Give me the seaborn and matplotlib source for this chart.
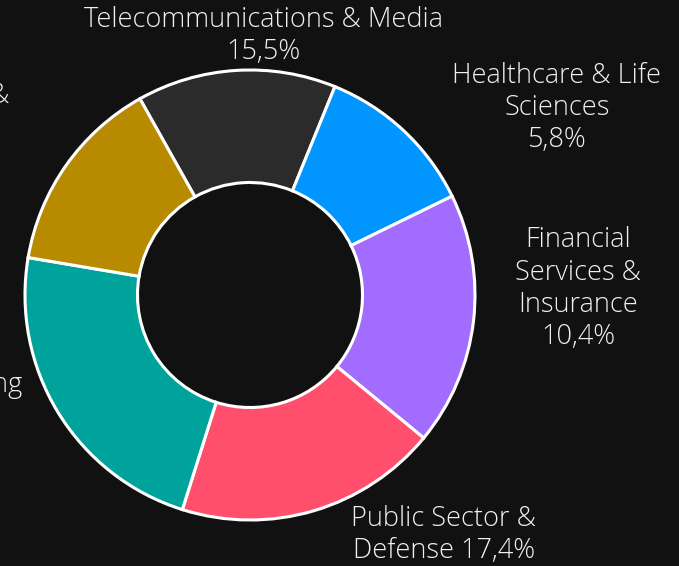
import seaborn as sns
import matplotlib.pyplot as plt

# Slice data (clockwise from the top-left)
sectors = ['Telecommunications & Media', 'Healthcare & Life Sciences',
           'Financial Services & Insurance', 'Public Sector & Defense',
           'Manufacturing', 'Energy & Utilities']
shares = [14.3, 11.6, 18.2, 18.9, 22.8, 14.2]
colors = ['#2b2b2b', '#0095ff', '#a26cff', '#ff4f6c', '#00a39b', '#b88a00']

# Label texts as shown in the chart
label_texts = ['Telecommunications & Media\n15,5%',
               'Healthcare & Life\nSciences\n5,8%',
               'Financial\nServices &\nInsurance\n10,4%',
               'Public Sector &\nDefense 17,4%',
               'Manufacturing\n24,4%',
               'Energy &\nUtilities\n12,6%']

# Label placement (data units, pie radius = 1)
label_pos = [(0.062, 1.150, 'center'), (1.364, 0.830, 'center'),
             (1.458, 0.028, 'center'), (0.862, -1.066, 'center'),
             (-1.009, -0.470, 'right'), (-1.067, 0.740, 'right')]

bg = '#111111'
sns.set_theme(style='dark')
plt.rcParams['font.family'] = ['Open Sans', 'DejaVu Sans']

fig = plt.figure(figsize=(6.79, 5.66), dpi=100, facecolor=bg)
ax = fig.add_axes([0, 0, 1, 1])
ax.set_facecolor(bg)

ax.pie(shares, colors=colors, startangle=119.3, counterclock=False,
       wedgeprops={'width': 0.5, 'edgecolor': 'white', 'linewidth': 2.2})

for txt, (x, y, ha) in zip(label_texts, label_pos):
    ax.text(x, y, txt, ha=ha, va='center', multialignment='center',
            fontsize=19.5, fontweight=300, color='#f0f0f0', linespacing=1.2)

ax.set_xlim(-250 / 225, 429 / 225)
ax.set_ylim(-271 / 225, 295 / 225)
ax.set_aspect('equal')
ax.axis('off')

fig.savefig('out.png', dpi=100, facecolor=bg)
